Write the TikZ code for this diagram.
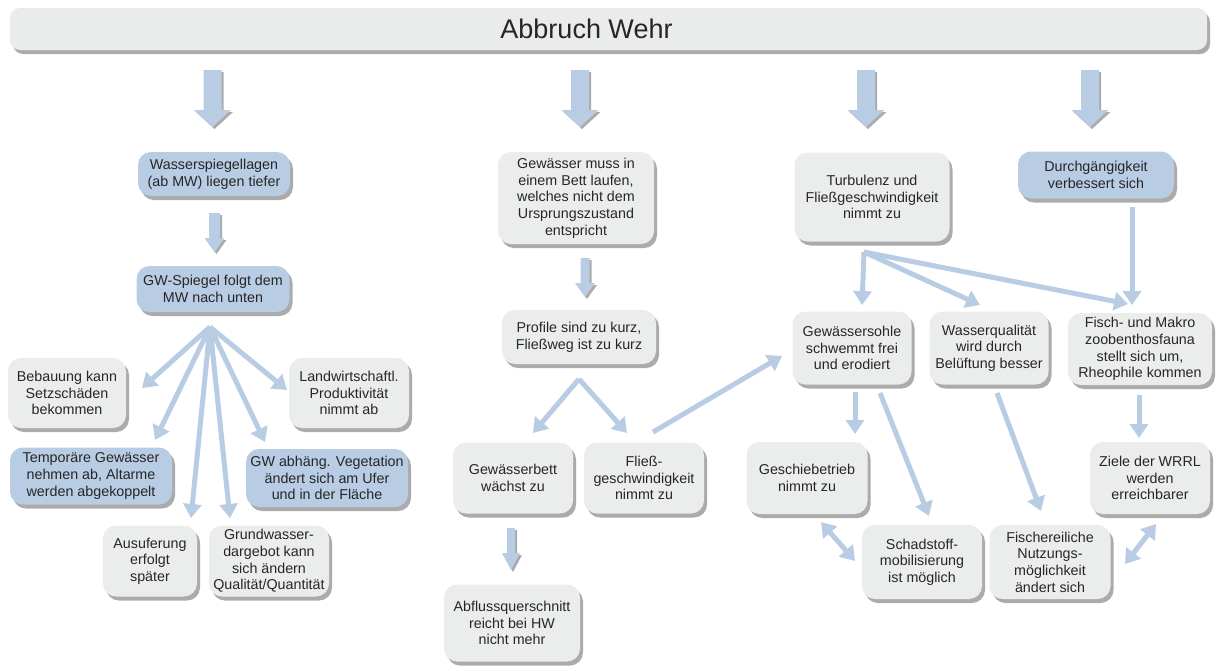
\documentclass[tikz,border=0pt]{standalone}
\usepackage{fontspec}
\setmainfont{Liberation Sans}
\usetikzlibrary{shadows,arrows.meta,calc}
\definecolor{bluebox}{HTML}{B8CCE4}
\definecolor{graybox}{HTML}{EBECEC}
\definecolor{titlegray}{HTML}{EAEBEB}
\definecolor{arrowblue}{HTML}{B8CCE4}
\definecolor{shadowgray}{HTML}{ABABAB}
\definecolor{txt}{HTML}{262626}
\tikzset{
  box/.style={rounded corners=13pt, inner sep=0pt, align=center, text=txt,
    font=\fontsize{14.3}{16.7}\selectfont,
    drop shadow={shadow xshift=3pt,shadow yshift=-4pt,fill=shadowgray,opacity=1}},
  gbox/.style={box,fill=graybox},
  bbox/.style={box,fill=bluebox},
  sz/.style 2 args={minimum width=#1pt,minimum height=#2pt},
  conn/.style={draw=arrowblue, line width=5pt, -{Triangle[width=18pt,length=14pt]}},
  dconn/.style={draw=arrowblue, line width=5pt, {Triangle[width=18pt,length=14pt]}-{Triangle[width=18pt,length=14pt]}},
}
% block arrow: x, ytop, ybottom, shaft half width, head half width, head length
\newcommand\blockarr[6]{%
  \foreach \dx/\dy/\col in {2/2/shadowgray,0/0/arrowblue}{
    \fill[\col] ({#1-#4+\dx},{#2+\dy}) -- ({#1+#4+\dx},{#2+\dy}) -- ({#1+#4+\dx},{#3-#6+\dy})
      -- ({#1+#5+\dx},{#3-#6+\dy}) -- ({#1+\dx},{#3+\dy}) -- ({#1-#5+\dx},{#3-#6+\dy})
      -- ({#1-#4+\dx},{#3-#6+\dy}) -- cycle;}%
}
\begin{document}
\begin{tikzpicture}[x=1pt,y=-1pt]
\useasboundingbox[fill=white] (0,0) rectangle (1220,670);

% title
\node[box, fill=titlegray, rounded corners=10pt, sz={1197}{42}, text=black!85,
  font=\fontsize{27}{30}\selectfont] (title) at (608.5,29) {\hspace*{-44pt}Abbruch Wehr};

% top block arrows
\blockarr{212.5}{70}{127}{9}{18.5}{17}
\blockarr{580}{70}{127}{9}{18.5}{17}
\blockarr{866}{70}{127}{9}{18.5}{17}
\blockarr{1090}{70}{127}{9}{18.5}{17}

% left column
\node[bbox, sz={152}{44}] (wsl) at (214,174) {Wasserspiegellagen\\(ab MW) liegen tiefer};
\node[bbox, sz={153}{46}] (gws) at (213,289) {GW-Spiegel folgt dem\\MW nach unten};
\node[gbox, sz={118}{70}] (beb) at (67,393) {Bebauung kann\\Setzschäden\\bekommen};
\node[gbox, sz={120}{70}] (lan) at (349,393) {Landwirtschaftl.\\Produktivität\\nimmt ab};
\node[bbox, sz={162}{57}] (tem) at (91,476) {Temporäre Gewässer\\nehmen ab, Altarme\\werden abgekoppelt};
\node[bbox, sz={162}{58}] (gwa) at (327,478) {GW abhäng. Vegetation\\ändert sich am Ufer\\und in der Fläche};
\node[gbox, sz={94}{71}] (aus) at (150,561) {Ausuferung\\erfolgt\\später};
\node[gbox, sz={120}{71}] (gru) at (269,561) {Grundwasser-\\dargebot kann\\sich ändern\\Qualität/Quantität};

% middle column
\node[gbox, sz={156}{92}] (gmi) at (576,198) {Gewässer muss in\\einem Bett laufen,\\welches nicht dem\\Ursprungszustand\\entspricht};
\node[gbox, sz={154}{54}] (pro) at (579,337) {Profile sind zu kurz,\\Fließweg ist zu kurz};
\node[gbox, sz={120}{71}] (gbe) at (513,478) {Gewässerbett\\wächst zu};
\node[gbox, sz={120}{71}] (fli) at (644,478) {Fließ-\\geschwindigkeit\\nimmt zu};
\node[gbox, sz={136}{77}] (abf) at (512,623) {Abflussquerschnitt\\reicht bei HW\\nicht mehr};

% right part
\node[gbox, sz={155}{89}] (tur) at (872,197) {Turbulenz und\\Fließgeschwindigkeit\\nimmt zu};
\node[bbox, sz={156}{47}] (dur) at (1096,175) {Durchgängigkeit\\verbessert sich};
\node[gbox, sz={119}{73}] (gso) at (852,348) {Gewässersohle\\schwemmt frei\\und erodiert};
\node[gbox, sz={119}{73}] (wqu) at (989,348) {Wasserqualität\\wird durch\\Belüftung besser};
\node[gbox, sz={144}{72}] (fis) at (1140,349) {Fisch- und Makro\\zoobenthosfauna\\stellt sich um,\\Rheophile kommen};
\node[gbox, sz={121}{72}] (ges) at (807,478) {Geschiebetrieb\\nimmt zu};
\node[gbox, sz={120}{72}] (zie) at (1150,478) {Ziele der WRRL\\werden\\erreichbarer};
\node[gbox, sz={120}{74}] (sch) at (922,562) {Schadstoff-\\mobilisierung\\ist möglich};
\node[gbox, sz={121}{74}] (fer) at (1050,562) {Fischereiliche\\Nutzungs-\\möglichkeit\\ändert sich};

% inner block arrows
\blockarr{214.5}{213}{252}{5.5}{10}{14}
\blockarr{585}{258}{297}{4.5}{10}{14}
\blockarr{511}{528}{570}{4}{9}{17}

% connector end points
\coordinate (gwsf) at (210,327);
\coordinate (beb-in) at (142,388);
\coordinate (lan-in) at (287,390);
\coordinate (tem-in) at (155,440);
\coordinate (aus-in) at (191,518);
\coordinate (gru-in) at (230,518);
\coordinate (gwa-in) at (265,442);
\coordinate (prof) at (579,379);
\coordinate (gbe-in) at (533,433);
\coordinate (fli-in) at (627,433);
\coordinate (fli-out) at (653,432);
\coordinate (gso-in) at (782,356);
\coordinate (tur-out) at (864,252);
\coordinate (gso-top) at (862,305);
\coordinate (wqu-top) at (980,305);
\coordinate (fis-top) at (1128,304);
\coordinate (dur-out) at (1132,207);
\coordinate (fis-top2) at (1132,305);
\coordinate (gso-out1) at (855,392);
\coordinate (ges-top) at (855,434);
\coordinate (gso-out2) at (880,393);
\coordinate (sch-top) at (929,516);
\coordinate (wqu-out) at (997,393);
\coordinate (fer-top) at (1041,511);
\coordinate (fis-out) at (1139,395);
\coordinate (zie-top) at (1139,438);
\coordinate (ges-bot) at (821,522);
\coordinate (sch-left) at (855,561);
\coordinate (zie-bot) at (1156,524);
\coordinate (fer-right) at (1125,564);

% connectors
\foreach \t in {beb-in,lan-in,tem-in,aus-in,gru-in,gwa-in}
  \draw[conn] (gwsf) -- (\t);
\draw[conn] (prof) -- (gbe-in);
\draw[conn] (prof) -- (fli-in);
\draw[conn] (fli-out) -- (gso-in);
\draw[conn] (tur-out) -- (gso-top);
\draw[conn] (tur-out) -- (wqu-top);
\draw[conn] (tur-out) -- (fis-top);
\draw[conn] (dur-out) -- (fis-top2);
\draw[conn] (gso-out1) -- (ges-top);
\draw[conn] (gso-out2) -- (sch-top);
\draw[conn] (wqu-out) -- (fer-top);
\draw[conn] (fis-out) -- (zie-top);
\draw[dconn] (ges-bot) -- (sch-left);
\draw[dconn] (zie-bot) -- (fer-right);
\end{tikzpicture}
\end{document}
